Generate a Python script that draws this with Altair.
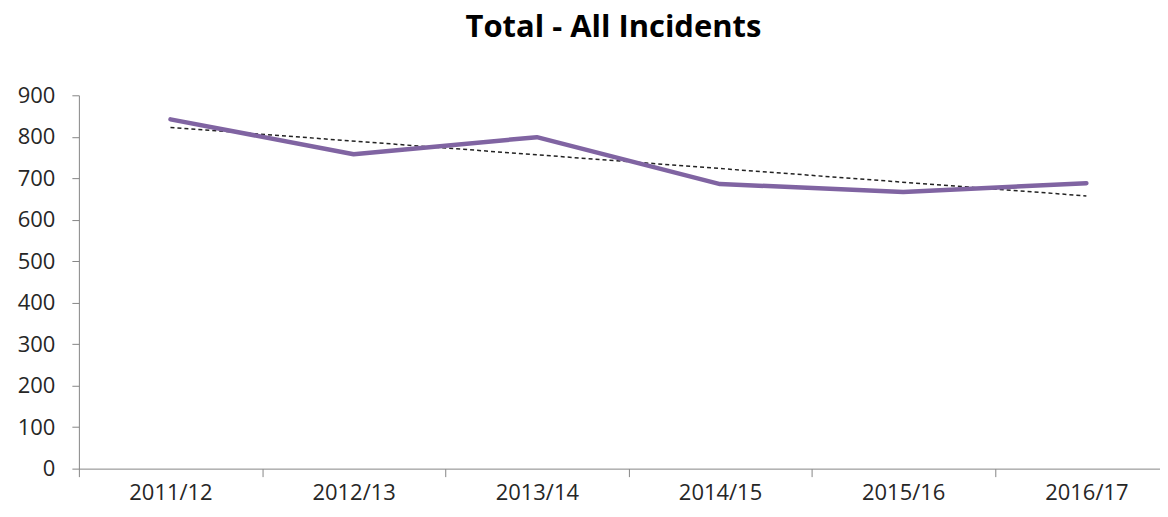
import altair as alt
import pandas as pd

years = ["2011/12", "2012/13", "2013/14", "2014/15", "2015/16", "2016/17"]
incidents = [842, 758, 799, 686, 667, 688]

df = pd.DataFrame({"year": years, "idx": list(range(len(years))), "incidents": incidents})

FONT = "Open Sans"

x_enc = alt.X(
    "year:O",
    sort=years,
    scale=alt.Scale(type="band", domain=years, paddingInner=0, paddingOuter=0, range=[0, 1101]),
    bandPosition=0.5,
    axis=alt.Axis(
        title=None,
        labelAngle=0,
        tickBand="extent",
        tickSize=8,
        labelPadding=6,
        domainColor="#868686",
        tickColor="#868686",
        labelFont=FONT,
        labelFontSize=22,
        labelColor="#262626",
        grid=False,
    ),
)

base = alt.Chart(df)

line = base.mark_line(color="#8064A2", strokeWidth=4.5, strokeJoin="round", strokeCap="round").encode(
    x=x_enc,
    y=alt.Y(
        "incidents:Q",
        scale=alt.Scale(domain=[0, 900], nice=False),
        axis=alt.Axis(
            title=None,
            values=list(range(0, 901, 100)),
            tickSize=7,
            labelPadding=17,
            domainColor="#868686",
            tickColor="#868686",
            labelFont=FONT,
            labelFontSize=22,
            labelColor="#262626",
            grid=False,
        ),
    ),
)

label_expr = "[" + ",".join("'%s'" % y for y in years) + "][round(datum.idx)]"

trend = (
    base.transform_regression("idx", "incidents", method="linear")
    .transform_calculate(year=label_expr)
    .mark_line(color="#222222", strokeWidth=1.5, strokeDash=[4, 3])
    .encode(x=x_enc, y="incidents:Q")
)

chart = (
    alt.layer(trend, line)
    .properties(
        width=1083,
        height=374,
        title=alt.TitleParams(
            "Total - All Incidents",
            font=FONT,
            fontSize=31,
            fontWeight="bold",
            color="#000000",
            offset=40,
            anchor="middle",
            dx=-6,
        ),
        autosize=alt.AutoSizeParams(type="none"),
        padding={"left": 71, "top": 87, "right": 0, "bottom": 40},
    )
    .configure_view(stroke=None)
)

chart.save("out.html", embed_options={"renderer": "svg", "actions": False})
